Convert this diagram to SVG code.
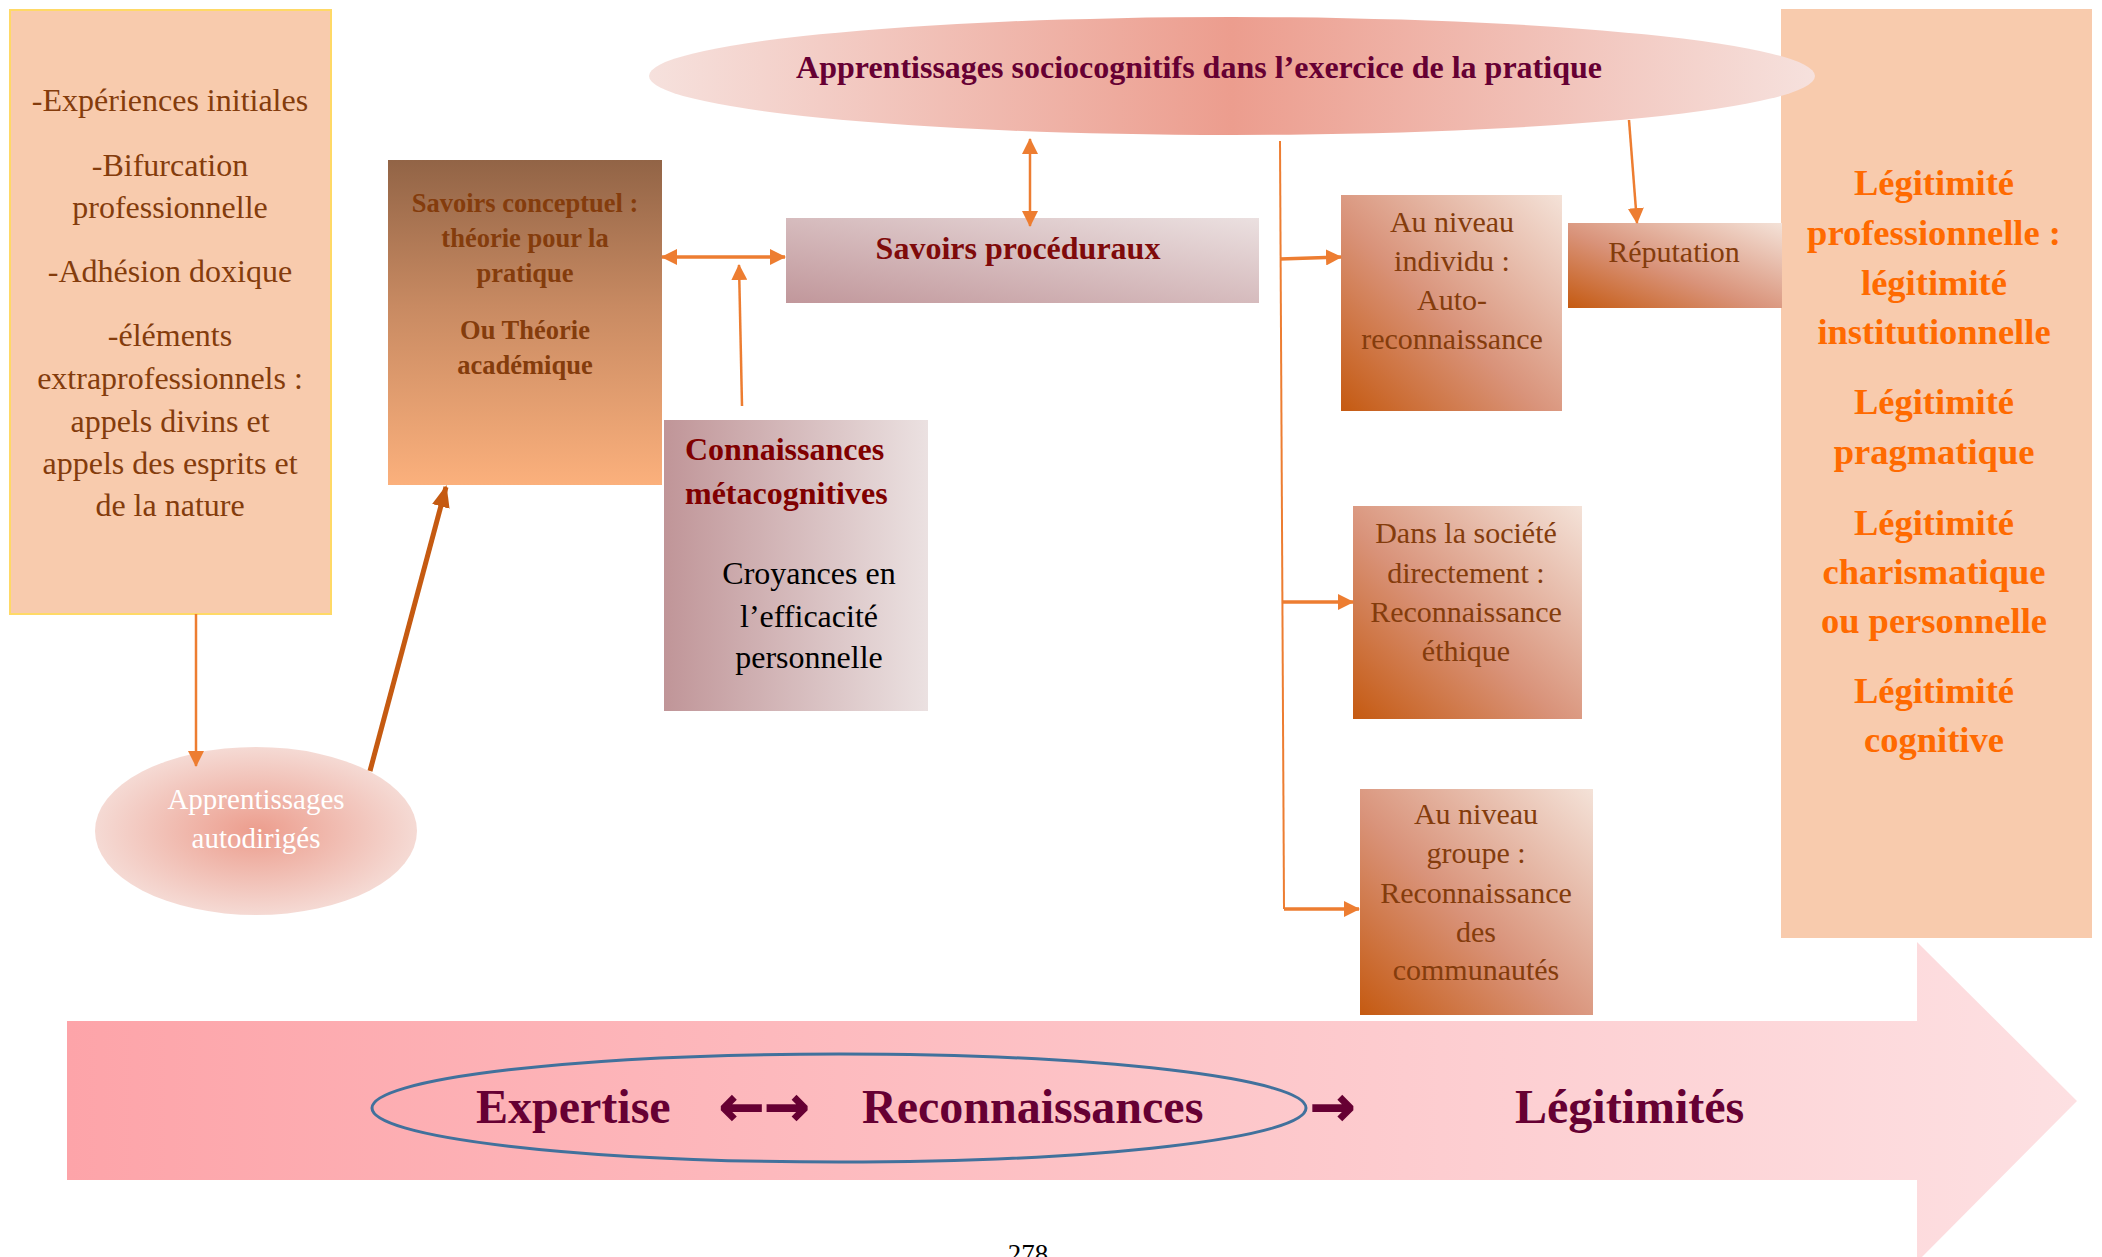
<svg xmlns="http://www.w3.org/2000/svg" width="2102" height="1257" viewBox="0 0 2102 1257">
<style>
.serif{font-family:"Liberation Serif","Times New Roman",serif}
.reg{font-family:"Liberation Serif","Times New Roman",serif;font-weight:normal}
.bold{font-family:"Liberation Serif","Times New Roman",serif;font-weight:bold}
.brown{fill:#843c0c}
.mid{text-anchor:middle}
.conn{stroke:#ed7d31;fill:none}
</style>
<defs>
<marker id="ah" markerUnits="userSpaceOnUse" markerWidth="16" markerHeight="16" refX="15" refY="8" orient="auto-start-reverse" viewBox="0 0 16 16">
<path d="M0,0 L16,8 L0,16 z" fill="#ed7d31"/>
</marker>
<marker id="ahThick" markerUnits="userSpaceOnUse" markerWidth="22" markerHeight="18" refX="20" refY="9" orient="auto" viewBox="0 0 22 18">
<path d="M0,0 L22,9 L0,18 z" fill="#c55a11"/>
</marker>
<linearGradient id="gConcept" x1="0" y1="0" x2="0" y2="1">
<stop offset="0" stop-color="#926446"/>
<stop offset="0.45" stop-color="#c88a62"/>
<stop offset="1" stop-color="#fbb07c"/>
</linearGradient>
<linearGradient id="gProc" x1="0" y1="1" x2="1" y2="0">
<stop offset="0" stop-color="#c1979b"/>
<stop offset="1" stop-color="#ebe0e0"/>
</linearGradient>
<linearGradient id="gMeta" x1="0" y1="0" x2="1" y2="0">
<stop offset="0" stop-color="#c09598"/>
<stop offset="1" stop-color="#ebe1e1"/>
</linearGradient>
<linearGradient id="gReco" x1="0" y1="1" x2="1" y2="0">
<stop offset="0" stop-color="#c55a11"/>
<stop offset="0.45" stop-color="#d9937a"/>
<stop offset="1" stop-color="#f4e2d8"/>
</linearGradient>
<linearGradient id="gTop" x1="0" y1="0" x2="1" y2="0">
<stop offset="0" stop-color="#f6e1dd"/>
<stop offset="0.5" stop-color="#ec9d8e"/>
<stop offset="1" stop-color="#f6e1dd"/>
</linearGradient>
<radialGradient id="gAuto" cx="0.5" cy="0.5" r="0.5">
<stop offset="0" stop-color="#ec9d8d"/>
<stop offset="1" stop-color="#f5dad4"/>
</radialGradient>
<linearGradient id="gBig" x1="0" y1="0" x2="1" y2="0">
<stop offset="0" stop-color="#fda4a9"/>
<stop offset="1" stop-color="#fde0e2"/>
</linearGradient>
</defs>
<rect width="2102" height="1257" fill="#ffffff"/>

<g id="bigArrow">
<path d="M67,1021 L1917,1021 L1917,942 L2077,1101 L1917,1262 L1917,1180 L67,1180 z" fill="url(#gBig)"/>
</g>

<g id="legitimiteBox">
<rect x="1781" y="9" width="311" height="929" fill="#f8cbad"/>
<g class="bold mid" fill="#ff6a00" font-size="36.5">
<text x="1934" y="195">Légitimité</text>
<text x="1934" y="245">professionnelle :</text>
<text x="1934" y="295">légitimité</text>
<text x="1934" y="344">institutionnelle</text>
<text x="1934" y="414">Légitimité</text>
<text x="1934" y="464">pragmatique</text>
<text x="1934" y="535">Légitimité</text>
<text x="1934" y="584">charismatique</text>
<text x="1934" y="633">ou personnelle</text>
<text x="1934" y="703">Légitimité</text>
<text x="1934" y="752">cognitive</text>
</g>
</g>

<g id="leftBox">
<rect x="10" y="10" width="321" height="604" fill="#f8cbad" stroke="#ffd966" stroke-width="2"/>
<g class="reg mid brown" font-size="32">
<text x="170" y="111">-Expériences initiales</text>
<text x="170" y="176">-Bifurcation</text>
<text x="170" y="218">professionnelle</text>
<text x="170" y="282">-Adhésion doxique</text>
<text x="170" y="346">-éléments</text>
<text x="170" y="389">extraprofessionnels :</text>
<text x="170" y="432">appels divins et</text>
<text x="170" y="474">appels des esprits et</text>
<text x="170" y="516">de la nature</text>
</g>
</g>

<g id="savoirsConceptuel">
<rect x="388" y="160" width="274" height="325" fill="url(#gConcept)"/>
<g class="bold mid brown" font-size="26.5">
<text x="525" y="212">Savoirs conceptuel :</text>
<text x="525" y="247">théorie pour la</text>
<text x="525" y="282">pratique</text>
<text x="525" y="339">Ou Théorie</text>
<text x="525" y="374">académique</text>
</g>
</g>

<g id="topEllipse">
<ellipse cx="1232" cy="76" rx="583" ry="59" fill="url(#gTop)"/>
<text class="bold mid" x="1199" y="78" font-size="32" fill="#660033">Apprentissages sociocognitifs dans l’exercice de la pratique</text>
</g>

<g id="savoirsProceduraux">
<rect x="786" y="218" width="473" height="85" fill="url(#gProc)"/>
<text class="bold mid" x="1018" y="259" font-size="32" fill="#7f0a0a">Savoirs procéduraux</text>
</g>

<g id="metacognitives">
<rect x="664" y="420" width="264" height="291" fill="url(#gMeta)"/>
<g class="bold" font-size="32" fill="#800000">
<text x="685" y="460">Connaissances</text>
<text x="685" y="504">métacognitives</text>
</g>
<g class="reg mid" font-size="32" fill="#000000">
<text x="809" y="584">Croyances en</text>
<text x="809" y="627">l’efficacité</text>
<text x="809" y="668">personnelle</text>
</g>
</g>

<g id="autodiriges">
<ellipse cx="256" cy="831" rx="161" ry="84" fill="url(#gAuto)"/>
<g class="reg mid" font-size="29" fill="#ffffff">
<text x="256" y="809">Apprentissages</text>
<text x="256" y="848">autodirigés</text>
</g>
</g>

<g id="individu">
<rect x="1341" y="195" width="221" height="216" fill="url(#gReco)"/>
<g class="reg mid brown" font-size="30">
<text x="1452" y="232">Au niveau</text>
<text x="1452" y="271">individu :</text>
<text x="1452" y="310">Auto-</text>
<text x="1452" y="349">reconnaissance</text>
</g>
</g>

<g id="reputation">
<rect x="1568" y="223" width="214" height="85" fill="url(#gReco)"/>
<text class="reg mid brown" x="1674" y="262" font-size="30">Réputation</text>
</g>

<g id="societe">
<rect x="1353" y="506" width="229" height="213" fill="url(#gReco)"/>
<g class="reg mid brown" font-size="30">
<text x="1466" y="543">Dans la société</text>
<text x="1466" y="583">directement :</text>
<text x="1466" y="622">Reconnaissance</text>
<text x="1466" y="661">éthique</text>
</g>
</g>

<g id="groupe">
<rect x="1360" y="789" width="233" height="226" fill="url(#gReco)"/>
<g class="reg mid brown" font-size="30">
<text x="1476" y="824">Au niveau</text>
<text x="1476" y="863">groupe :</text>
<text x="1476" y="903">Reconnaissance</text>
<text x="1476" y="942">des</text>
<text x="1476" y="980">communautés</text>
</g>
</g>

<g id="connectors">
<line class="conn" x1="196" y1="614" x2="196" y2="766" stroke-width="2.5" marker-end="url(#ah)"/>
<line x1="370" y1="771" x2="446" y2="487" stroke="#c55a11" stroke-width="5" marker-end="url(#ahThick)"/>
<line class="conn" x1="662" y1="257" x2="785" y2="257" stroke-width="3.5" marker-start="url(#ah)" marker-end="url(#ah)"/>
<line class="conn" x1="742" y1="406" x2="739" y2="265" stroke-width="2.5" marker-end="url(#ah)"/>
<line class="conn" x1="1030" y1="139" x2="1030" y2="226" stroke-width="2.5" marker-start="url(#ah)" marker-end="url(#ah)"/>
<line class="conn" x1="1629" y1="120" x2="1637" y2="223" stroke-width="2.5" marker-end="url(#ah)"/>
<line class="conn" x1="1280" y1="141" x2="1284" y2="909" stroke-width="2"/>
<line class="conn" x1="1280" y1="259" x2="1341" y2="257" stroke-width="3.5" marker-end="url(#ah)"/>
<line class="conn" x1="1282" y1="602" x2="1353" y2="602" stroke-width="3.5" marker-end="url(#ah)"/>
<line class="conn" x1="1284" y1="909" x2="1359" y2="909" stroke-width="3.5" marker-end="url(#ah)"/>
</g>

<g id="formula">
<ellipse cx="839" cy="1108" rx="467" ry="54" fill="none" stroke="#41719c" stroke-width="3"/>
<g class="bold" font-size="48" fill="#660033">
<text x="476" y="1123">Expertise</text>
<text x="862" y="1123">Reconnaissances</text>
<text x="1515" y="1123">Légitimités</text>
</g>
<g font-family="DejaVu Sans, sans-serif" font-weight="bold" font-size="54" fill="#660033" stroke="#660033" stroke-width="1.5">
<text x="719" y="1125">←→</text>
<text x="1310" y="1125">→</text>
</g>
</g>

<text class="reg mid" x="1028" y="1263" font-size="27" fill="#000000">278</text>
</svg>
